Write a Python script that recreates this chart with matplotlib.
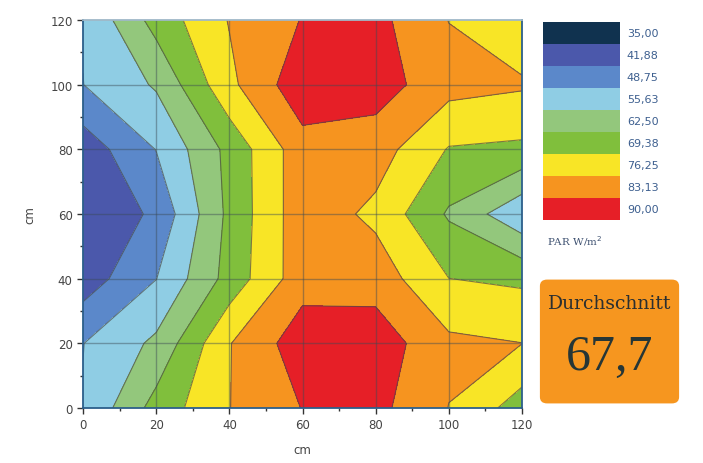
import numpy as np
import matplotlib.pyplot as plt
from matplotlib.patches import FancyBboxPatch

# Messpunkte (cm)
x_cm = [0, 20, 40, 60, 80, 100, 120]
y_cm = [0, 20, 40, 60, 80, 100, 120]

# PAR-Werte je Zeile (y = 0 ... 120), Spalten x = 0 ... 120
row_y0 = [56.0, 72.0, 83.0, 90.2, 92.0, 83.0, 72.9]
row_y20 = [55.5, 63.9, 82.8, 93.9, 93.9, 84.6, 83.2]
row_y40 = [45.0, 55.5, 71.9, 87.2, 87.0, 76.3, 75.0]
row_y60 = [42.0, 50.2, 71.1, 87.4, 81.5, 68.5, 57.0]
row_y80 = [44.8, 55.8, 71.4, 87.3, 86.3, 75.8, 74.9]
row_y100 = [55.55, 63.3, 81.5, 94.6, 93.2, 85.6, 84.0]
row_y120 = [56.0, 72.0, 83.5, 90.3, 92.0, 83.0, 78.0]

levels = [35, 41.88, 48.75, 55.63, 62.5, 69.38, 76.25, 83.13, 90, 100]
level_labels = ['35,00', '41,88', '48,75', '55,63', '62,50', '69,38', '76,25', '83,13', '90,00']
colors = ['#10324f', '#4b58ab', '#5b88ca', '#8fcde4', '#93c77c',
          '#80bf3c', '#f8e526', '#f6941f', '#e61f27']
durchschnitt = '67,7'

Z = np.array([row_y0, row_y20, row_y40, row_y60, row_y80, row_y100, row_y120])
X, Y = np.meshgrid(x_cm, y_cm)

fig = plt.figure(figsize=(7.03, 4.64), dpi=100)
ax = fig.add_axes([83 / 703, 55 / 464, 439 / 703, 388 / 464])

ax.contourf(X, Y, Z, levels=levels, colors=colors)
ax.contour(X, Y, Z, levels=levels[1:-1], colors='#4a4a4a', linewidths=0.8, alpha=0.7)

# Gitterlinien
for v in x_cm[1:-1]:
    ax.axvline(v, color='#3b4a55', lw=1.0, alpha=0.45)
for v in y_cm[1:-1]:
    ax.axhline(v, color='#3b4a55', lw=1.0, alpha=0.45)

ax.set_xlim(0, 120)
ax.set_ylim(0, 120)
ax.set_xticks(x_cm)
ax.set_yticks(y_cm)
ax.set_xticks(range(10, 120, 20), minor=True)
ax.set_yticks(range(10, 120, 20), minor=True)
ax.tick_params(which='major', direction='out', length=4, width=1, colors='#333333',
               labelsize=8.5, labelcolor='#444444')
ax.tick_params(which='minor', direction='out', length=2.5, width=1, colors='#333333')
for s in ax.spines.values():
    s.set_color('#2c5f8a')
    s.set_linewidth(1.3)
ax.spines['top'].set_color('#9fb8c8')

ax.set_xlabel('cm', fontsize=8.5, color='#444444', labelpad=8)
ax.set_ylabel('cm', fontsize=8.5, color='#444444', labelpad=10)

# Farblegende
cax = fig.add_axes([543 / 703, (464 - 221) / 464, 77 / 703, 198 / 464])
cax.barh(range(len(colors)), 1, height=1, color=colors, edgecolor='none')
cax.set_ylim(len(colors) - 0.5, -0.5)
cax.set_xlim(0, 1)
cax.set_xticks([])
cax.set_yticks([])
for s in cax.spines.values():
    s.set_visible(False)
for i, lab in enumerate(level_labels):
    cax.text(1.09, i, lab, fontsize=8, color='#3d5f8f', va='center', ha='left',
             transform=cax.get_yaxis_transform())
fig.text(547 / 703, 1 - 241 / 464, 'PAR W/m$^2$', fontsize=7.5, color='#3d5070',
         family='DejaVu Serif', va='center', ha='left')

# Durchschnitt-Box
bax = fig.add_axes([537 / 703, 57 / 464, 145 / 703, 129 / 464])
bax.set_axis_off()
bax.set_xlim(0, 1)
bax.set_ylim(0, 1)
bax.add_patch(FancyBboxPatch((0.02, 0.02), 0.96, 0.96,
                             boxstyle='round,pad=0,rounding_size=0.05',
                             fc='#f6961f', ec='none'))
bax.text(0.5, 0.8, 'Durchschnitt', fontsize=13.5, family='DejaVu Serif',
         color='#2b2f30', ha='center', va='center')
bax.text(0.5, 0.38, durchschnitt, fontsize=36, family='Liberation Serif',
         color='#263636', ha='center', va='center')

fig.savefig('out.png', dpi=100)
